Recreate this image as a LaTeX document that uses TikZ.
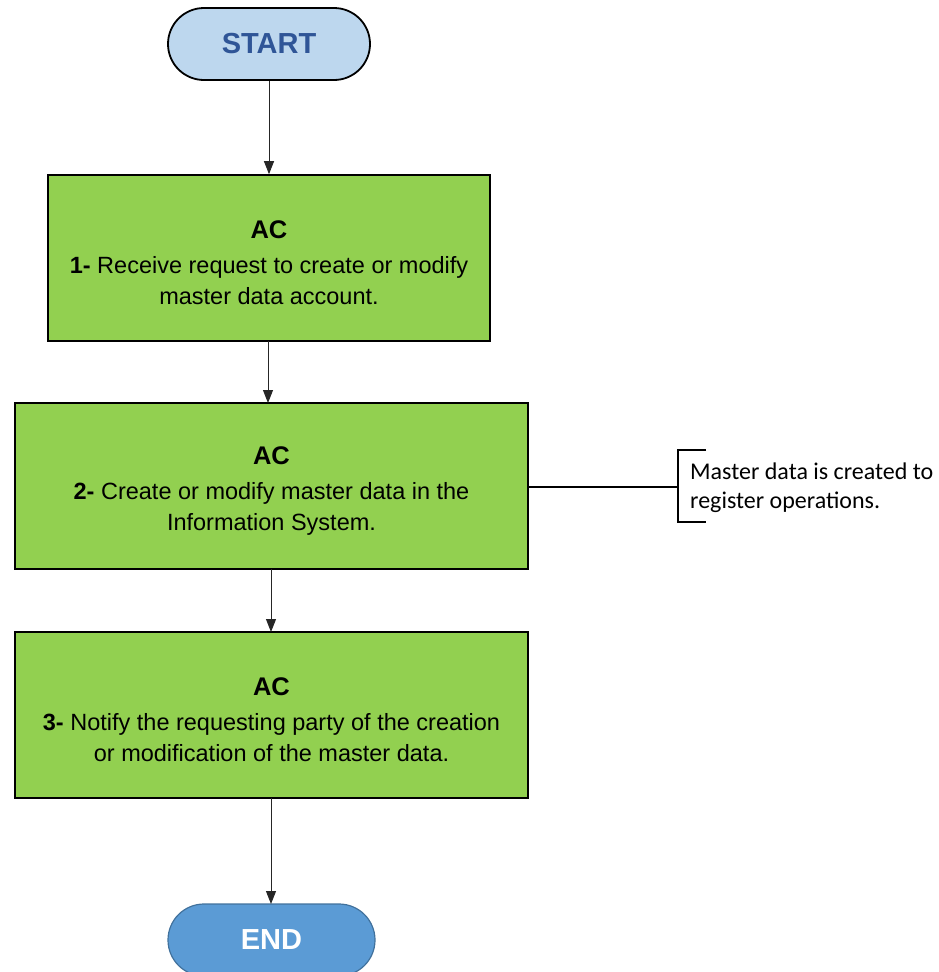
\documentclass[tikz,border=0pt]{standalone}
\usepackage{fontspec}
\setmainfont{Liberation Sans}
\newfontfamily\notefont{Carlito}
\usetikzlibrary{arrows.meta}
\definecolor{startfill}{HTML}{BDD7EE}
\definecolor{starttext}{HTML}{2F5597}
\definecolor{endfill}{HTML}{5B9BD5}
\definecolor{endline}{HTML}{41719C}
\definecolor{stepfill}{HTML}{92D050}
\tikzset{
  x=1pt, y=-1pt,
  terminal/.style={draw=black, line width=1.8pt, rounded corners=36pt, fill=startfill,
    minimum width=202pt, minimum height=72pt, inner sep=0pt,
    font=\fontsize{29}{30}\selectfont\bfseries, text=starttext},
  stepbox/.style={draw=black, line width=1.6pt, fill=stepfill, inner sep=0pt,
    minimum height=166pt},
  steptext/.style={align=center, inner sep=0pt, font=\fontsize{23.5}{31}\selectfont},
  flow/.style={line width=1pt, draw=black!85, -{Triangle[length=13pt,width=10pt]}},
}
\newcommand{\acline}{{\fontsize{25.5}{31}\selectfont\bfseries AC}\\[4pt]}
\begin{document}
\begin{tikzpicture}
\useasboundingbox (0,0) rectangle (938,972);
\node[terminal] (start) at (269,44) {START};

\node[stepbox, minimum width=442pt] (s1) at (269,258) {};
\node[steptext] (s1t) at (269,263)
  {\acline\textbf{1-} Receive request to create or modify\\master data account.};
\node[stepbox, minimum width=513pt] (s2) at (271.5,486) {};
\node[steptext] (s2t) at (271.5,491)
  {\acline\textbf{2-} Create or modify master data in the\\Information System.};
\node[stepbox, minimum width=513pt] (s3) at (271.5,715) {};
\node[steptext] (s3t) at (271.5,720)
  {\acline\textbf{3-} Notify the requesting party of the creation\\or modification of the master data.};

\node[terminal, fill=endfill, draw=endline, line width=1.2pt, text=white, minimum width=207pt] (end) at (271.5,940) {END};

\draw[flow] (start.south) -- (start.south |- s1.north);
\draw[flow] (268,341) -- (268,403);
\draw[flow] (271,569) -- (271,632);
\draw[flow] (271,798) -- (271,904);

% side note with bracket
\coordinate (brk) at (678,487);
\draw[line width=1.6pt] (s2.east |- brk) -- (brk);
\draw[line width=2.6pt] (706,450) -- (678,450) -- (678,522) -- (706,522);
\node[anchor=north west, inner sep=0pt, align=left, font=\notefont\fontsize{24}{29}\selectfont] (note) at (690,463)
  {Master data is created to\\register operations.};
\end{tikzpicture}
\end{document}
